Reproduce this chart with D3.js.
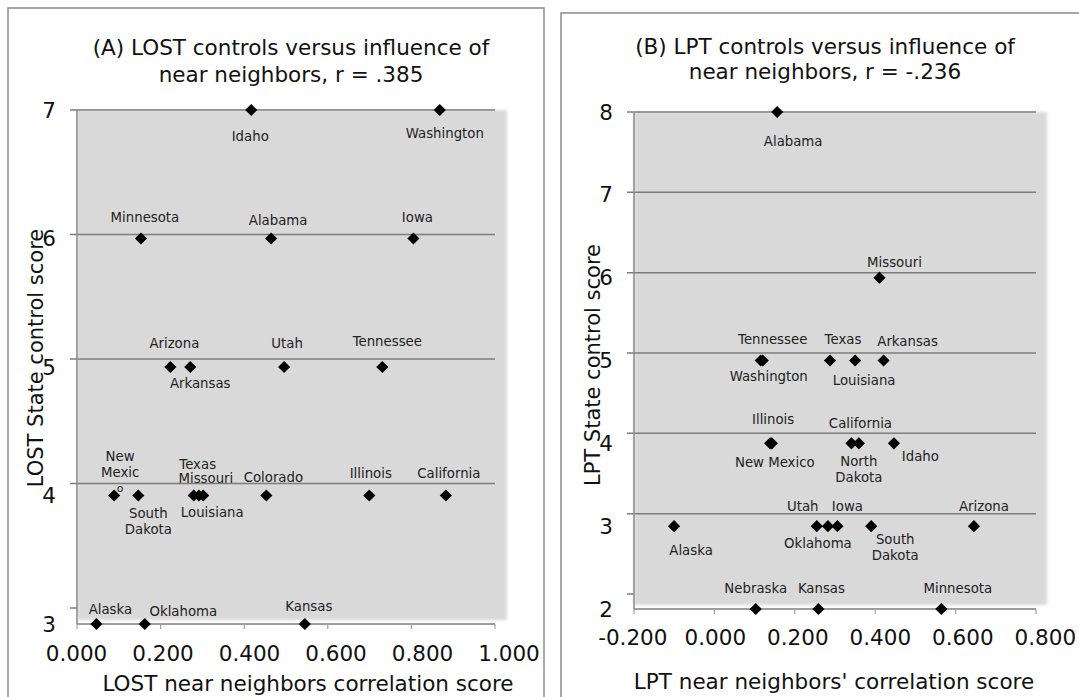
<!DOCTYPE html>
<html>
<head>
<meta charset="utf-8">
<script src="https://cdn.jsdelivr.net/npm/d3@7"></script>
<style>
  body { margin: 0; background: #fff; }
  text { font-family: "DejaVu Sans", Verdana, sans-serif; }
</style>
</head>
<body>
<div id="chart"></div>
<script>
// panel A data (LOST)
var lostStates = ["Idaho", "Washington", "Minnesota", "Alabama", "Iowa", "Arizona", "Arkansas", "Utah", "Tennessee",
                  "New Mexico", "South Dakota", "Texas", "Missouri", "Louisiana", "Colorado", "Illinois", "California",
                  "Alaska", "Oklahoma", "Kansas"];
var lostNeighbor = [0.404, 0.840, 0.149, 0.450, 0.779, 0.217, 0.263, 0.480, 0.707,
                    0.087, 0.143, 0.271, 0.283, 0.293, 0.439, 0.677, 0.854,
                    0.046, 0.158, 0.528];
var lostScore = [7, 7, 6, 6, 6, 5, 5, 5, 5,
                 4, 4, 4, 4, 4, 4, 4, 4,
                 3, 3, 3];
var lostXTicks = [0, 0.2, 0.4, 0.6, 0.8, 1.0];
var lostYTicks = [3, 4, 5, 6, 7];

// panel B data (LPT)
var lptStates = ["Alabama", "Missouri", "Tennessee", "Washington", "Texas", "Louisiana", "Arkansas",
                 "Illinois", "New Mexico", "California", "North Dakota", "Idaho",
                 "Alaska", "Utah", "Oklahoma", "Iowa", "South Dakota", "Arizona",
                 "Nebraska", "Kansas", "Minnesota"];
var lptNeighbor = [0.150, 0.398, 0.110, 0.115, 0.278, 0.339, 0.408,
                   0.133, 0.137, 0.330, 0.348, 0.433,
                   -0.100, 0.246, 0.273, 0.296, 0.378, 0.627,
                   0.098, 0.250, 0.548];
var lptScore = [8, 6, 5, 5, 5, 5, 5,
                4, 4, 4, 4, 4,
                3, 3, 3, 3, 3, 3,
                2, 2, 2];
var lptXTicks = [-0.2, 0, 0.2, 0.4, 0.6, 0.8];
var lptYTicks = [2, 3, 4, 5, 6, 7, 8];

// label placement relative to each marker (layout only)
var lostLabelPos = {
  "Idaho": [-1, 26], "Washington": [5, 23], "Minnesota": [4, -21.5], "Alabama": [7, -18.5], "Iowa": [4, -21.5],
  "Arizona": [4, -24], "Arkansas": [10, 16], "Utah": [3, -24], "Tennessee": [5, -26],
  "New Mexico": [6, -39.5, ["New", "Mexic"]], "South Dakota": [10, 17.5, ["South", "Dakota"]],
  "Texas": [4, -31.5], "Missouri": [7, -17.5], "Louisiana": [9, 16.5], "Colorado": [7, -18.5],
  "Illinois": [1.5, -22.5], "California": [3, -22.5], "Alaska": [14, -15], "Oklahoma": [38.5, -13], "Kansas": [4, -18]
};
var lptLabelPos = {
  "Alabama": [16, 29], "Missouri": [15, -16], "Tennessee": [12, -21.5], "Washington": [6, 15.5],
  "Texas": [13, -21.5], "Louisiana": [9, 19.5], "Arkansas": [24, -19.5], "Illinois": [3, -24],
  "New Mexico": [3, 19], "California": [9, -20], "North Dakota": [0, 17.5, ["North", "Dakota"]],
  "Idaho": [26.5, 12.5], "Alaska": [17, 24], "Utah": [-14, -20], "Oklahoma": [-10, 17], "Iowa": [10, -20],
  "South Dakota": [24, 13, ["South", "Dakota"]], "Arizona": [10, -20],
  "Nebraska": [0, -21], "Kansas": [3, -21], "Minnesota": [16.5, -21]
};

var svg = d3.select("#chart").append("svg")
    .attr("width", 1079)
    .attr("height", 697);

var defs = svg.append("defs");
defs.append("filter").attr("id", "soft")
    .append("feGaussianBlur").attr("stdDeviation", 1.5);

function drawPanel(p) {
  var g = svg.append("g");

  // outer frame
  g.append("rect")
      .attr("x", p.box[0]).attr("y", p.box[1])
      .attr("width", p.box[2]).attr("height", p.box[3])
      .attr("fill", "#fff").attr("stroke", "#8c8c8c").attr("stroke-width", 1.5);

  // mark scales
  var x = d3.scaleLinear().domain(p.xDomain).range(p.xRange);
  var y = d3.scaleLinear().domain(p.yDomain).range(p.yRange);
  // frame scales (gridlines and axis ticks)
  var gx = d3.scaleLinear().domain(p.xDomain).range(p.gxRange);
  var gy = d3.scaleLinear().domain(p.yDomain).range(p.gyRange);

  // plot background
  g.append("rect")
      .attr("x", p.gxRange[0]).attr("y", gy(p.yDomain[1]))
      .attr("width", p.bgRight - p.gxRange[0])
      .attr("height", p.bgBottom - gy(p.yDomain[1]))
      .attr("fill", "#d9d9d9")
      .attr("filter", "url(#soft)");

  // state labels
  var lbl = g.append("g")
      .style("font-size", "13.3px")
      .attr("fill", "#222")
      .attr("text-anchor", "middle");
  p.states.forEach(function(s, i) {
    var pos = p.labelPos[s];
    var lines = pos[2] || [s];
    var t = lbl.append("text")
        .attr("x", x(p.xs[i]) + pos[0])
        .attr("y", y(p.ys[i]) + pos[1] + 5);
    lines.forEach(function(line, k) {
      t.append("tspan")
          .attr("x", x(p.xs[i]) + pos[0])
          .attr("dy", k === 0 ? 0 : 16)
          .text(line);
    });
    if (s === "New Mexico" && p.name === "A") {
      lbl.append("text")
          .attr("x", x(p.xs[i]) + 6)
          .attr("y", y(p.ys[i]) - 4)
          .style("font-size", "11px")
          .text("o");
    }
  });

  // gridlines
  var grid = p.yTicks.slice(1);
  g.selectAll(".grid").data(grid).enter().append("line")
      .attr("x1", p.gxRange[0] - 7).attr("x2", p.gxRange[1])
      .attr("y1", function(d) { return gy(d); })
      .attr("y2", function(d) { return gy(d); })
      .attr("stroke", "#7d7d7d").attr("stroke-width", 1.5);
  // short tick at the bottom value
  g.append("line")
      .attr("x1", p.gxRange[0] - 7).attr("x2", p.gxRange[0])
      .attr("y1", gy(p.yTicks[0])).attr("y2", gy(p.yTicks[0]))
      .attr("stroke", "#7d7d7d").attr("stroke-width", 1.5);

  // axes lines
  var axisY = y(p.yDomain[0]);
  g.append("line")
      .attr("x1", p.gxRange[0]).attr("x2", p.gxRange[0])
      .attr("y1", gy(p.yDomain[1])).attr("y2", axisY)
      .attr("stroke", "#8a8a8a").attr("stroke-width", 1.5);
  g.append("line")
      .attr("x1", p.gxRange[0]).attr("x2", p.gxRange[1])
      .attr("y1", axisY).attr("y2", axisY)
      .attr("stroke", "#7d7d7d").attr("stroke-width", 1.5);
  g.selectAll(".xtick").data(p.xTicks).enter().append("line")
      .attr("x1", function(d) { return gx(d); })
      .attr("x2", function(d) { return gx(d); })
      .attr("y1", axisY).attr("y2", axisY + 5)
      .attr("stroke", "#a0a0a0").attr("stroke-width", 1.2);

  // tick labels
  g.selectAll(".xlab").data(p.xTicks).enter().append("text")
      .attr("x", function(d) { return x(d); })
      .attr("y", p.xLabelY)
      .attr("text-anchor", "middle")
      .style("font-size", "21.5px")
      .attr("fill", "#111")
      .text(function(d) { return d3.format(".3f")(d).replace("\u2212", "-"); });
  g.selectAll(".ylab").data(p.yTicks).enter().append("text")
      .attr("x", p.gxRange[0] - 21)
      .attr("y", function(d) { return y(d) + 7.5; })
      .attr("text-anchor", "end")
      .style("font-size", "21.5px")
      .attr("fill", "#111")
      .text(function(d) { return d; });

  // markers
  g.selectAll(".pt").data(p.states).enter().append("path")
      .attr("d", d3.symbol(d3.symbolSquare, 74))
      .attr("transform", function(d, i) {
        return "translate(" + x(p.xs[i]) + "," + y(p.ys[i]) + ") rotate(45)";
      })
      .attr("fill", "#000");

  // titles
  var title = g.append("text")
      .attr("text-anchor", "middle")
      .style("font-size", "21.5px")
      .attr("fill", "#111");
  p.title.forEach(function(line, k) {
    title.append("tspan")
        .attr("x", p.titleX)
        .attr("y", p.titleY + k * p.titleGap)
        .text(line);
  });
  g.append("text")
      .attr("x", p.xTitle[0]).attr("y", p.xTitle[1])
      .attr("text-anchor", "middle")
      .style("font-size", "21.5px")
      .attr("fill", "#111")
      .text(p.xLabel);
  g.append("text")
      .attr("transform", "translate(" + p.yTitle[0] + "," + p.yTitle[1] + ") rotate(-90)")
      .attr("text-anchor", "middle")
      .style("font-size", "21px")
      .attr("fill", "#111")
      .text(p.yLabel);
}

drawPanel({
  name: "A",
  box: [8, 8, 536, 700],
  states: lostStates, xs: lostNeighbor, ys: lostScore,
  xTicks: lostXTicks, yTicks: lostYTicks,
  labelPos: lostLabelPos,
  xDomain: [0, 1], yDomain: [3, 7],
  xRange: [76.5, 509], yRange: [624, 110],
  gxRange: [77, 495], gyRange: [608, 110],
  bgRight: 507, bgBottom: 620,
  xLabelY: 661,
  title: ["(A) LOST controls versus influence of", "near neighbors, r = .385"],
  titleX: 291, titleY: 55, titleGap: 27,
  xLabel: "LOST near neighbors correlation score", xTitle: [308, 691],
  yLabel: "LOST State control score", yTitle: [43, 358]
});

drawPanel({
  name: "B",
  box: [561, 13, 540, 700],
  states: lptStates, xs: lptNeighbor, ys: lptScore,
  xTicks: lptXTicks, yTicks: lptYTicks,
  labelPos: lptLabelPos,
  xDomain: [-0.2, 0.8], yDomain: [2, 8],
  xRange: [632.8, 1045.3], yRange: [609, 112],
  gxRange: [634, 1036], gyRange: [594, 112],
  bgRight: 1047, bgBottom: 605,
  xLabelY: 644.5,
  title: ["(B) LPT controls versus influence of", "near neighbors, r = -.236"],
  titleX: 825, titleY: 54, titleGap: 25,
  xLabel: "LPT near neighbors' correlation score", xTitle: [834, 689],
  yLabel: "LPT State control score", yTitle: [600, 365]
});
</script>
</body>
</html>
